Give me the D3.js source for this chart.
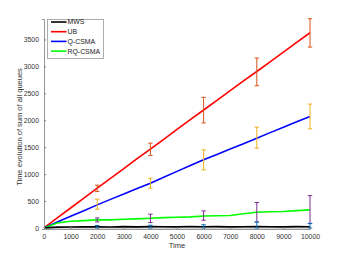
<!DOCTYPE html>
<html><head><meta charset="utf-8">
<script src="https://cdn.jsdelivr.net/npm/d3@7"></script>
<style>body{margin:0;background:#fff}svg{display:block}text{font-family:"Liberation Sans",Arial,sans-serif}</style>
</head><body>
<script>
const timeSteps = [0,500,1000,1500,2000,2500,3000,3500,4000,4500,5000,5500,6000,6500,7000,7500,8000,8500,9000,9500,10000];
const mwsValues = [0,15,18,20,22,18,24,20,25,22,20,26,22,24,20,23,26,22,20,24,22];
const ubValues = [0,185,370,555,740,920,1100,1285,1465,1645,1830,2010,2190,2370,2550,2730,2905,3085,3265,3445,3625];
const qValues = [0,110,215,320,428,530,630,730,831,940,1050,1160,1264,1365,1465,1565,1667,1770,1870,1970,2070];
const rqValues = [0,90,125,135,149,150,160,168,180,192,199,205,222,225,232,262,290,300,305,322,335];
const mwsBandLow = [-15,-15,-15,-15,-15,-15,-15,-15,-15,-15,-15,-15,-15,-15,-15,-15,-15,-15,-15,-15,-15];

const errTimes = [2000,4000,6000,8000,10000];
const ubErrLow = [675,1344,1950,2640,3358];
const ubErrHigh = [794,1574,2425,3154,3885];
const qErrLow = [348,738,1078,1481,1840];
const qErrHigh = [533,924,1450,1872,2300];
const rqErrLow = [112,100,143,112,85];
const rqErrHigh = [186,255,316,472,600];
const mwsErrLow = [0,0,0,0,0];
const mwsErrHigh = [45,50,60,110,80];

const xTicks = [0,1000,2000,3000,4000,5000,6000,7000,8000,9000,10000];
const yTicks = [0,500,1000,1500,2000,2500,3000,3500];

const seriesNames = ["MWS","UB","Q-CSMA","RQ-CSMA"];
const seriesColors = ["#000000","#ff0000","#0000ff","#00ff00"];
const errColors = ["#0072BD","#D95319","#EDB120","#7E2F8E"];

const W=343,H=256;
const svg=d3.select("body").append("svg").attr("width",W).attr("height",H);
const x=d3.scaleLinear().domain([0,10000]).range([44,310]);
const y=d3.scaleLinear().domain([-20,3880]).range([229,19]);

const band=timeSteps.map((t,i)=>({t,lo:mwsBandLow[i],hi:mwsValues[i]}));
svg.append("path").datum(band)
  .attr("d",d3.area().x(d=>x(d.t)).y0(d=>y(d.lo)).y1(d=>y(d.hi)))
  .attr("fill","#cccccc");

const allVals=[mwsValues,ubValues,qValues,rqValues];
const line=d3.line().x(d=>x(d[0])).y(d=>y(d[1]));
[1,2,3,0].forEach(k=>{
  svg.append("path").datum(timeSteps.map((t,i)=>[t,allVals[k][i]]))
    .attr("d",line).attr("fill","none").attr("stroke",seriesColors[k]).attr("stroke-width",1.6);
});

const errs=[[mwsErrLow,mwsErrHigh],[ubErrLow,ubErrHigh],[qErrLow,qErrHigh],[rqErrLow,rqErrHigh]];
[1,2,3,0].forEach(k=>{
  const g=svg.append("g").attr("stroke",errColors[k]).attr("stroke-width",1).attr("fill","none");
  errTimes.forEach((t,i)=>{
    const xx=x(t), y1=y(errs[k][0][i]), y2=y(errs[k][1][i]);
    g.append("line").attr("x1",xx).attr("x2",xx).attr("y1",y1).attr("y2",y2);
    g.append("line").attr("x1",xx-2.2).attr("x2",xx+2.2).attr("y1",y1).attr("y2",y1);
    g.append("line").attr("x1",xx-2.2).attr("x2",xx+2.2).attr("y1",y2).attr("y2",y2);
  });
});

const axCol="#7f7f7f";
const xAxis=svg.append("g").attr("transform","translate(0,229)")
  .call(d3.axisBottom(x).tickValues(xTicks).tickSize(-2).tickPadding(4).tickFormat(d3.format("d")));
const yAxis=svg.append("g").attr("transform","translate(44,0)")
  .call(d3.axisLeft(y).tickValues(yTicks).tickSize(2).tickPadding(3).tickFormat(d3.format("d")));
yAxis.selectAll(".tick line").attr("x2",2);
[xAxis,yAxis].forEach(a=>{
  a.select(".domain").attr("stroke",axCol).attr("stroke-width",0.8);
  a.selectAll(".tick line").attr("stroke",axCol);
  a.selectAll(".tick text").attr("fill","#333").style("font-size","6.9px").style("font-family","Liberation Sans, Arial, sans-serif");
});
xAxis.selectAll(".tick text").attr("dy","0.85em");

svg.append("text").attr("x",177).attr("y",248).attr("text-anchor","middle")
  .attr("fill","#333").style("font-size","7.5px").text("Time");
svg.append("text").attr("transform","translate(22,127) rotate(-90)").attr("text-anchor","middle")
  .attr("fill","#333").style("font-size","7.5px").text("Time evolution of sum of all queues");

const lg=svg.append("g");
lg.append("rect").attr("x",47.5).attr("y",19.5).attr("width",56).attr("height",39)
  .attr("fill","#fff").attr("stroke","#999").attr("stroke-width",0.8);
seriesNames.forEach((n,i)=>{
  const yy=22+i*9.7;
  lg.append("line").attr("x1",51).attr("x2",66.5).attr("y1",yy).attr("y2",yy)
    .attr("stroke",seriesColors[i]).attr("stroke-width",1.6);
  lg.append("text").attr("x",67.5).attr("y",yy).attr("dy","0.35em")
    .attr("fill","#222").style("font-size","6.9px").text(n);
});
</script>
</body></html>
